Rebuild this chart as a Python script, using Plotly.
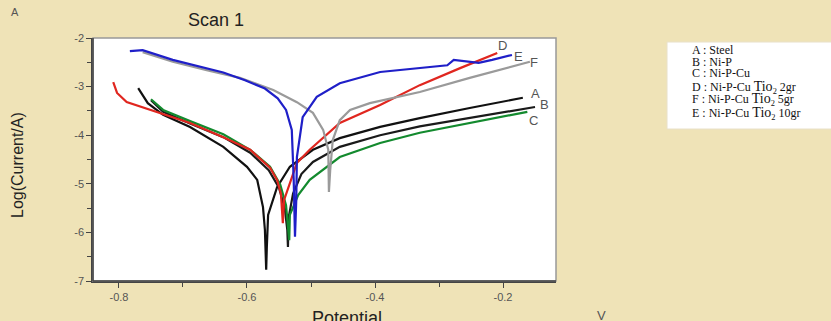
import plotly.graph_objects as go

# ---- data (Potential V, log(Current/A)) ----
steel_x = [-0.770, -0.755, -0.731, -0.689, -0.637, -0.600, -0.584, -0.575, -0.572, -0.570,
           -0.569, -0.567, -0.553, -0.533, -0.497, -0.455, -0.392, -0.330, -0.252, -0.169]
steel_y = [-3.03, -3.34, -3.58, -3.83, -4.24, -4.65, -4.92, -5.48, -5.95, -6.77,
           -6.30, -5.64, -5.07, -4.65, -4.30, -4.06, -3.83, -3.65, -3.44, -3.23]

nip_x = [-0.750, -0.731, -0.689, -0.637, -0.595, -0.566, -0.550, -0.541, -0.537, -0.536,
         -0.535, -0.528, -0.515, -0.497, -0.455, -0.392, -0.330, -0.252, -0.150]
nip_y = [-3.28, -3.52, -3.76, -4.04, -4.36, -4.72, -5.08, -5.50, -5.95, -6.30,
         -5.70, -5.20, -4.80, -4.55, -4.24, -4.00, -3.82, -3.64, -3.42]

nipcu_x = [-0.750, -0.731, -0.689, -0.637, -0.595, -0.564, -0.548, -0.539, -0.534,
           -0.533, -0.520, -0.502, -0.455, -0.392, -0.330, -0.252, -0.162]
nipcu_y = [-3.26, -3.48, -3.71, -3.98, -4.30, -4.65, -5.02, -5.44, -6.16,
           -5.64, -5.23, -4.92, -4.45, -4.16, -3.95, -3.75, -3.52]

tio2_2_x = [-0.809, -0.803, -0.788, -0.741, -0.689, -0.637, -0.595, -0.564, -0.553, -0.547,
            -0.545, -0.544, -0.542, -0.533, -0.522, -0.502, -0.455, -0.392, -0.330, -0.267, -0.209]
tio2_2_y = [-2.91, -3.13, -3.32, -3.52, -3.75, -4.04, -4.30, -4.67, -4.92, -5.20,
            -5.60, -5.81, -5.33, -4.98, -4.57, -4.30, -3.75, -3.38, -2.97, -2.62, -2.31]

tio2_5_x = [-0.763, -0.716, -0.663, -0.611, -0.559, -0.522, -0.497, -0.481, -0.473, -0.472, -0.472,
            -0.470, -0.466, -0.455, -0.439, -0.408, -0.361, -0.330, -0.252, -0.158]
tio2_5_y = [-2.29, -2.49, -2.66, -2.82, -3.07, -3.32, -3.54, -3.89, -4.30, -4.72, -5.17,
            -4.72, -4.10, -3.69, -3.48, -3.34, -3.21, -3.11, -2.82, -2.49]

tio2_10_x = [-0.783, -0.763, -0.716, -0.663, -0.637, -0.603, -0.572, -0.552, -0.539, -0.530,
             -0.528, -0.527, -0.525, -0.523, -0.522, -0.513, -0.491, -0.455, -0.392, -0.330,
             -0.287, -0.277, -0.238, -0.217, -0.186]
tio2_10_y = [-2.27, -2.25, -2.45, -2.63, -2.71, -2.87, -3.04, -3.24, -3.48, -3.89,
             -4.45, -4.92, -6.09, -5.33, -4.45, -3.63, -3.21, -2.93, -2.70, -2.62,
             -2.56, -2.45, -2.51, -2.45, -2.35]

series = [
    ("A : Steel", steel_x, steel_y, "#111111"),
    ("B : Ni-P", nip_x, nip_y, "#1a1a1a"),
    ("C : Ni-P-Cu", nipcu_x, nipcu_y, "#138a2e"),
    ("D : Ni-P-Cu Tio2 2gr", tio2_2_x, tio2_2_y, "#e0261f"),
    ("F : Ni-P-Cu Tio2 5gr", tio2_5_x, tio2_5_y, "#9a9a9a"),
    ("E : Ni-P-Cu Tio2 10gr", tio2_10_x, tio2_10_y, "#1f1fc8"),
]

legend_lines = ["A : Steel", "B : Ni-P", "C : Ni-P-Cu",
                "D : Ni-P-Cu <span style='font-size:14px'>Tio</span><sub>2</sub> 2gr",
                "F : Ni-P-Cu <span style='font-size:14px'>Tio</span><sub>2</sub> 5gr",
                "E : Ni-P-Cu <span style='font-size:14px'>Tio</span><sub>2</sub> 10gr"]

curve_labels = ["A", "B", "C", "D", "E", "F"]
x_ticks = [-0.8, -0.6, -0.4, -0.2]
y_ticks = [-2, -3, -4, -5, -6, -7]

# ---- layout geometry (pixels) ----
W, H = 831, 321
L, R, T, B = 93, 556, 38, 281
BG = "#efe3b7"


def px(x):
    return (x - L) / (R - L)


def py(y):
    return (B - y) / (B - T)


fig = go.Figure()
for name, xs, ys, col in series:
    fig.add_trace(go.Scatter(x=xs, y=ys, mode="lines", name=name,
                             line=dict(color=col, width=2.2), showlegend=False))

fig.update_layout(
    width=W, height=H,
    margin=dict(l=L, r=W - R, t=T, b=H - B),
    paper_bgcolor=BG, plot_bgcolor="white",
    font=dict(family="Arial, Liberation Sans, sans-serif", color="#333"),
)
fig.update_xaxes(range=[-0.8406, -0.1172], tickvals=x_ticks,
                 ticktext=[f"{v:.1f}" for v in x_ticks],
                 ticks="outside", ticklen=5, tickcolor="#444", showgrid=False, zeroline=False,
                 showline=True, linecolor="#444", linewidth=1.5,
                 tickfont=dict(size=11, color="#555"),
                 minor=dict(tickvals=[-0.7, -0.5, -0.3], ticks="outside", ticklen=4, tickcolor="#444"))
fig.update_yaxes(range=[-7, -2], tickvals=y_ticks, ticktext=[str(v) for v in y_ticks],
                 ticks="outside", ticklen=5, tickcolor="#444", showgrid=False, zeroline=False,
                 showline=True, linecolor="#444", linewidth=1.5,
                 tickfont=dict(size=11, color="#555"),
                 minor=dict(tickvals=[-2.5, -3.5, -4.5, -5.5, -6.5], ticks="outside", ticklen=4,
                            tickcolor="#444"))

# border (top / right lighter)
fig.add_shape(type="rect", xref="paper", yref="paper", x0=0, y0=0, x1=1, y1=1,
              line=dict(color="#999", width=1.5), layer="above")
fig.add_shape(type="line", xref="paper", yref="paper", x0=0, y0=0, x1=1, y1=0,
              line=dict(color="#444", width=1.5), layer="above")
fig.add_shape(type="line", xref="paper", yref="paper", x0=0, y0=0, x1=0, y1=1,
              line=dict(color="#444", width=1.5), layer="above")

# legend box
fig.add_shape(type="rect", xref="paper", yref="paper", x0=px(667), y0=py(129), x1=px(840), y1=py(42),
              line=dict(color="#e8e0c8", width=1), fillcolor="white", layer="below")

ann = []
leg_y = [50, 62, 73, 87, 100, 113]
for txt, yy in zip(legend_lines, leg_y):
    ann.append(dict(x=px(690), y=py(yy), xref="paper", yref="paper", text=txt, showarrow=False,
                    xanchor="left", yanchor="middle",
                    font=dict(family="Liberation Serif, Times New Roman, serif", size=12, color="#111")))

# curve labels at the right ends
lab_pos = {"D": (502, 46), "E": (518, 56), "F": (534, 63), "A": (535, 93), "B": (544, 104), "C": (533, 120)}
for k in curve_labels:
    x0, y0 = lab_pos[k]
    ann.append(dict(x=px(x0), y=py(y0), xref="paper", yref="paper", text=k, showarrow=False,
                    xanchor="center", yanchor="middle", font=dict(size=13, color="#555")))

ann += [
    dict(x=px(15), y=py(12), text="A", font=dict(size=11, color="#555")),
    dict(x=px(216), y=py(20), text="Scan 1", font=dict(size=18, color="#222")),
    dict(x=px(17), y=py(165), text="Log(Current/A)", textangle=-90, font=dict(size=16, color="#222")),
    dict(x=px(347), y=py(318), text="Potential", font=dict(size=18, color="#222")),
    dict(x=px(601), y=py(315), text="V", font=dict(size=13, color="#555")),
]
for a in ann[-5:]:
    a.update(xref="paper", yref="paper", showarrow=False, xanchor="center", yanchor="middle")
fig.update_layout(annotations=ann)

fig.write_html("out.html", config={"displayModeBar": False},
               post_script="document.body.style.margin='0';document.body.style.overflow='hidden';"
                           "document.body.style.background='" + BG + "';")
